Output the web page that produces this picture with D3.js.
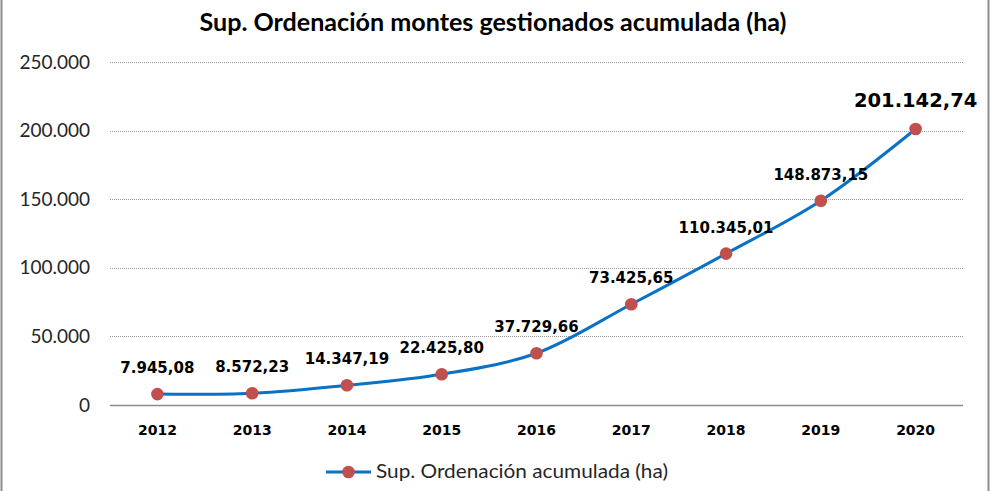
<!DOCTYPE html>
<html>
<head>
<meta charset="utf-8">
<script src="https://cdn.jsdelivr.net/npm/d3@7"></script>
<style>
  html, body { margin: 0; padding: 0; background: #fff; }
  svg { display: block; }
</style>
</head>
<body>
<svg id="chart" width="990" height="491"></svg>
<script>
const title = "Sup. Ordenación montes gestionados acumulada (ha)";
const seriesName = "Sup. Ordenación acumulada (ha)";
const years = ["2012","2013","2014","2015","2016","2017","2018","2019","2020"];
const values = [7945.08, 8572.23, 14347.19, 22425.80, 37729.66, 73425.65, 110345.01, 148873.15, 201142.74];
const valueLabels = ["7.945,08","8.572,23","14.347,19","22.425,80","37.729,66","73.425,65","110.345,01","148.873,15","201.142,74"];
const yTicks = [0, 50000, 100000, 150000, 200000, 250000];
const yTickLabels = ["0","50.000","100.000","150.000","200.000","250.000"];

const W = 990, H = 491;
const m = { left: 110, right: 27, top: 62, bottom: 86 };
const svg = d3.select("#chart");
const sans = "Lato, 'Open Sans', sans-serif";

// frame side borders
svg.append("line").attr("x1",1.5).attr("x2",1.5).attr("y1",0).attr("y2",H).attr("stroke","#8c8c8c").attr("stroke-width",2);
svg.append("line").attr("x1",988.5).attr("x2",988.5).attr("y1",0).attr("y2",H).attr("stroke","#8c8c8c").attr("stroke-width",2);

const x = d3.scaleBand().domain(years).range([m.left, W - m.right]);
const y = d3.scaleLinear().domain([0, 250000]).range([H - m.bottom, m.top]);

// title
svg.append("text").attr("x", 493).attr("y", 31).attr("text-anchor","middle")
  .attr("font-family", sans).attr("font-weight","bold")
  .attr("font-size", 24).attr("fill","#000")
  .attr("textLength", 587).attr("lengthAdjust","spacingAndGlyphs").text(title);

// gridlines
const g = svg.append("g");
g.selectAll("line.grid").data(yTicks.filter(d => d > 0)).join("line")
  .attr("x1", m.left).attr("x2", W - m.right)
  .attr("y1", d => Math.round(y(d)) + 0.5).attr("y2", d => Math.round(y(d)) + 0.5)
  .attr("stroke", "#9a9a9a").attr("stroke-width", 1).attr("stroke-dasharray", "1,1");
// baseline
g.append("line").attr("x1", m.left).attr("x2", W - m.right)
  .attr("y1", Math.round(y(0)) + 0.5).attr("y2", Math.round(y(0)) + 0.5)
  .attr("stroke", "#8c8c8c").attr("stroke-width", 1.3);

// y axis labels
const yAxis = d3.axisLeft(y).tickValues(yTicks).tickSize(0).tickPadding(20)
  .tickFormat((d, i) => yTickLabels[i]);
const ya = svg.append("g").attr("transform", `translate(${m.left},0)`).call(yAxis);
ya.select(".domain").remove();
ya.selectAll("text").attr("font-family", sans).attr("font-size", 19).attr("fill","#262626");

// x axis labels
const xAxis = d3.axisBottom(x).tickSize(0).tickPadding(0);
const xa = svg.append("g").attr("transform", `translate(0,${y(0)})`).call(xAxis);
xa.select(".domain").remove();
xa.selectAll("text").attr("y", 30).attr("dy", null)
  .attr("font-family","'DejaVu Sans', sans-serif").attr("font-weight","bold").attr("font-size", 14).attr("fill","#000");

// line
const cx = d => x(d) + x.bandwidth() / 2;
const pts = years.map((yr, i) => [cx(yr), y(values[i])]);
svg.append("path").datum(pts)
  .attr("d", d3.line().curve(d3.curveCatmullRom.alpha(0.5)))
  .attr("fill","none").attr("stroke","#0a72c4").attr("stroke-width",3);

svg.selectAll("circle.pt").data(pts).join("circle")
  .attr("cx", d => d[0]).attr("cy", d => d[1]).attr("r", 6.3).attr("fill", "#c0504d");

// data labels
svg.selectAll("text.lbl").data(valueLabels).join("text")
  .attr("x", (d, i) => pts[i][0]).attr("y", (d, i) => pts[i][1] - (i === years.length - 1 ? 22 : 21))
  .attr("text-anchor","middle")
  .attr("font-family","'DejaVu Sans', sans-serif").attr("font-weight","bold")
  .attr("font-size", (d, i) => i === years.length - 1 ? 19.5 : 15)
  .attr("fill","#000").text(d => d);

// legend
const ly = 472;
svg.append("line").attr("x1", 326).attr("x2", 371).attr("y1", ly).attr("y2", ly)
  .attr("stroke","#0a72c4").attr("stroke-width",3);
svg.append("circle").attr("cx", 348.5).attr("cy", ly).attr("r", 6.3).attr("fill","#c0504d");
svg.append("text").attr("x", 376).attr("y", ly + 6).attr("font-family", sans)
  .attr("font-size", 19).attr("fill","#262626")
  .attr("textLength", 292).attr("lengthAdjust","spacingAndGlyphs").text(seriesName);
</script>
</body>
</html>
